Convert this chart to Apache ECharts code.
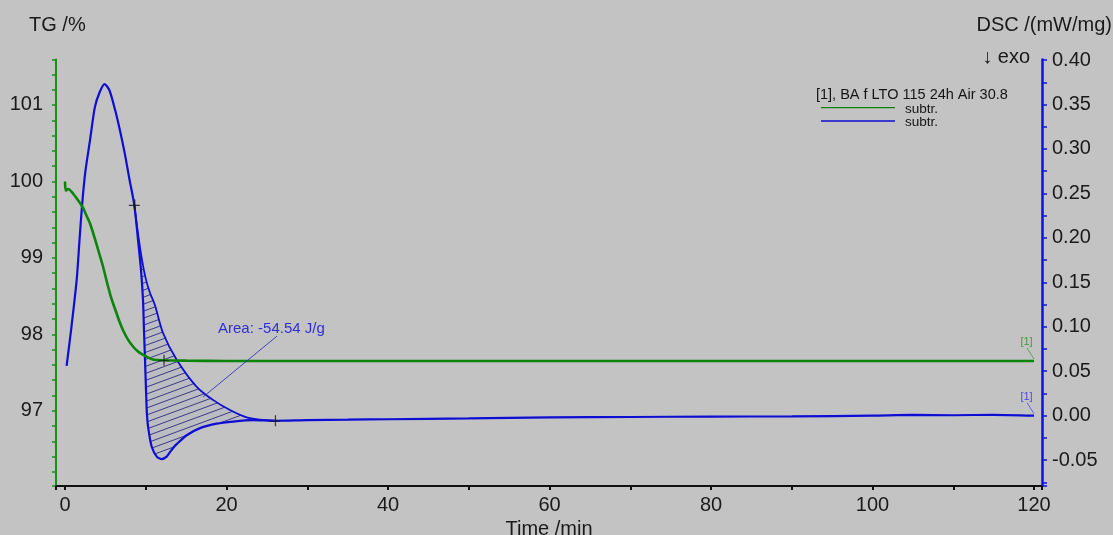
<!DOCTYPE html>
<html><head><meta charset="utf-8">
<script src="https://cdn.jsdelivr.net/npm/echarts@6/dist/echarts.min.js"></script>
<style>html,body{margin:0;padding:0;background:#c3c3c3;}#c{width:1113px;height:535px;}</style>
</head><body><div id="c"></div>
<script>
const FONT = 'Liberation Sans, Arial, Helvetica, sans-serif';

// ---- data ----
// DSC curve (mW/mg) vs time (min)
const dscTime  = [0.2, 0.8, 1.45, 1.8, 2.1, 2.5, 3.1, 3.7, 4.3, 4.9, 5.5, 6.2, 6.8, 7.4, 8.0, 8.58, 9.04, 9.41, 9.66, 9.78, 9.91, 10.03, 10.15, 10.34, 10.74, 11.36, 11.98, 12.59, 13.0, 13.41, 13.83, 15.07, 16.72, 18.79, 20.84, 23.28, 26.0, 30, 35, 40, 50, 60, 70, 80, 90, 100, 105, 110, 115, 120];
const dscValue = [0.056, 0.100, 0.153, 0.198, 0.235, 0.273, 0.310, 0.347, 0.364, 0.373, 0.366, 0.344, 0.321, 0.295, 0.265, 0.237, 0.198, 0.164, 0.130, 0.096, 0.0625, 0.029, 0.0007, -0.016, -0.035, -0.046, -0.049, -0.046, -0.041, -0.036, -0.032, -0.022, -0.014, -0.009, -0.0066, -0.005, -0.0057, -0.005, -0.0045, -0.004, -0.003, -0.002, -0.0015, -0.001, -0.0008, 0.0, 0.0008, 0.0005, 0.001, 0.0];
// integration baseline of the peak
const baseTime  = [8.58, 9.10, 9.54, 10.03, 10.53, 11.15, 12.14, 13.83, 16.31, 18.37, 20.43, 22.5, 24.15, 26.0];
const baseValue = [0.237, 0.201, 0.175, 0.153, 0.138, 0.124, 0.093, 0.063, 0.0325, 0.0175, 0.0063, -0.002, -0.0044, -0.0057];
// integration limits (indices into dsc arrays)
const peakStartIdx = 15;
const peakEndIdx = 36;
// TG curve (%) vs time (min)
const tgTime  = [0, 0.1, 0.4, 1.0, 1.5, 1.9, 2.3, 2.5, 3.1, 3.7, 4.2, 4.7, 5.1, 5.6, 6.0, 6.4, 6.8, 7.2, 7.8, 8.5, 9.1, 9.7, 10.9, 12.2, 15, 20, 30, 40, 50, 60, 70, 80, 90, 100, 110, 120];
const tgValue = [100.0, 99.88, 99.90, 99.84, 99.77, 99.71, 99.64, 99.59, 99.45, 99.25, 99.07, 98.89, 98.72, 98.52, 98.39, 98.27, 98.15, 98.05, 97.93, 97.83, 97.77, 97.73, 97.67, 97.66, 97.655, 97.65, 97.65, 97.65, 97.65, 97.65, 97.65, 97.65, 97.65, 97.65, 97.65, 97.65];
// marker points
const dscMarkers = [[8.58, 0.237], [26.0, -0.0057]];
const tgMarkers = [[12.2, 97.66]];
// annotation
const areaText = 'Area: -54.54 J/g';
const areaTextPos = [18.95, 0.0974];
const areaPointer = [[26.25, 0.0895], [17.1, 0.021]];
// axes
const xRange = [-1.115, 120.99];
const tgRange = [96.015, 101.595];
const dscRange = [-0.0791, 0.4006];
const legendTitle = '[1], BA f LTO 115 24h Air 30.8';
const legendItems = ['subtr.', 'subtr.'];

const GREEN = '#0b840b';
const GREEN_AX = '#159215';
const BLUE = '#0d0dd4';
const BLUE_AX = '#1010e6';
const TXT = '#1a1a1a';

function pairs(t, v) { return t.map((x, i) => [x, v[i]]); }

function makeHatch() {
  const W = 19, H = 7;
  const c = document.createElement('canvas');
  c.width = W; c.height = H;
  const g = c.getContext('2d');
  g.fillStyle = 'rgba(90,90,200,0.06)';
  g.fillRect(0, 0, W, H);
  g.strokeStyle = 'rgba(45,45,125,0.9)';
  g.lineWidth = 1;
  [[0,0],[-W,0],[W,0],[0,-H],[0,H]].forEach(([dx, dy]) => {
    g.beginPath(); g.moveTo(dx, H + dy); g.lineTo(W + dx, dy); g.stroke();
  });
  return c;
}
const hatchCanvas = makeHatch();

const chart = echarts.init(document.getElementById('c'), null, {renderer: 'canvas'});

function tagSeries(yIdx, point, color) {
  return {
    type: 'custom', xAxisIndex: 0, yAxisIndex: yIdx, silent: true, z: 6,
    data: [point],
    renderItem: function (params, api) {
      const p = api.coord([api.value(0), api.value(1)]);
      return {
        type: 'group',
        children: [
          {type: 'line', shape: {x1: p[0] - 7, y1: p[1] - 13, x2: p[0], y2: p[1] - 2}, style: {stroke: color, lineWidth: 0.8}},
          {type: 'text', style: {text: '[1]', x: p[0] - 7.5, y: p[1] - 19, align: 'center', verticalAlign: 'middle', textAlign: 'center', textVerticalAlign: 'middle', font: '11px ' + FONT, fill: color}}
        ]
      };
    }
  };
}

const option = {
  animation: false,
  backgroundColor: '#c3c3c3',
  textStyle: {fontFamily: FONT},
  grid: {left: 56, right: 71, top: 59.5, bottom: 49, containLabel: false, outerBoundsMode: 'none'},
  xAxis: {
    type: 'value', min: xRange[0], max: xRange[1], splitNumber: 12,
    axisLine: {show: true, onZero: false, lineStyle: {color: '#111', width: 2}},
    axisTick: {show: true, length: 4, lineStyle: {color: '#111', width: 2}},
    splitLine: {show: false},
    axisLabel: {margin: 9, fontSize: 20, color: TXT, fontFamily: FONT,
      formatter: v => (Math.abs(v / 20 - Math.round(v / 20)) < 1e-6 ? String(Math.round(v)) : '')},
    name: 'Time /min', nameLocation: 'middle', nameGap: 27,
    nameTextStyle: {fontSize: 20, color: TXT, fontFamily: FONT}
  },
  yAxis: [
    {
      type: 'value', position: 'left', min: tgRange[0], max: tgRange[1], splitNumber: 5,
      axisLine: {show: true, onZero: false, lineStyle: {color: GREEN_AX, width: 2}},
      axisTick: {show: true, length: 4, lineStyle: {color: GREEN_AX, width: 1.5}},
      minorTick: {show: true, splitNumber: 5, length: 4, lineStyle: {color: GREEN_AX, width: 1.5}},
      splitLine: {show: false},
      axisLabel: {margin: 13, fontSize: 20, color: TXT, fontFamily: FONT, padding: [3, 0, 0, 0],
        formatter: v => (Math.abs(v - Math.round(v)) < 1e-6 ? String(Math.round(v)) : '')}
    },
    {
      type: 'value', position: 'right', min: dscRange[0], max: dscRange[1], splitNumber: 10,
      axisLine: {show: true, onZero: false, lineStyle: {color: BLUE_AX, width: 2.5}},
      axisTick: {show: true, length: 5, lineStyle: {color: BLUE_AX, width: 1.5}},
      minorTick: {show: true, splitNumber: 2, length: 5, lineStyle: {color: BLUE_AX, width: 1.5}},
      splitLine: {show: false},
      axisLabel: {margin: 10, fontSize: 20, color: TXT, fontFamily: FONT, padding: [3, 0, 0, 0],
        formatter: v => (Math.abs(v / 0.05 - Math.round(v / 0.05)) < 1e-6 ? (Math.round(v / 0.05) * 0.05).toFixed(2) : '')}
    }
  ],
  series: [
    { // hatched peak area between DSC and baseline
      type: 'custom', xAxisIndex: 0, yAxisIndex: 1, silent: true, z: 1,
      data: [[dscTime[peakStartIdx], dscValue[peakStartIdx]]],
      renderItem: function (params, api) {
        const pts = [];
        for (let i = peakStartIdx; i <= peakEndIdx; i++) pts.push(api.coord([dscTime[i], dscValue[i]]));
        for (let i = baseTime.length - 1; i >= 0; i--) pts.push(api.coord([baseTime[i], baseValue[i]]));
        return {type: 'polygon', shape: {points: pts, smooth: 0.2}, style: {fill: {image: hatchCanvas, repeat: 'repeat'}, stroke: null}};
      }
    },
    {
      type: 'line', name: 'baseline', xAxisIndex: 0, yAxisIndex: 1, z: 2,
      data: pairs(baseTime, baseValue), showSymbol: false, symbol: 'none', smooth: 0.3,
      lineStyle: {color: BLUE, width: 1.8}, silent: true
    },
    {
      type: 'line', name: 'DSC', xAxisIndex: 0, yAxisIndex: 1, z: 3,
      data: pairs(dscTime, dscValue), showSymbol: false, symbol: 'none', smooth: 0.25,
      lineStyle: {color: BLUE, width: 2.2}, silent: true
    },
    {
      type: 'line', name: 'TG', xAxisIndex: 0, yAxisIndex: 0, z: 4,
      data: pairs(tgTime, tgValue), showSymbol: false, symbol: 'none', smooth: 0.25,
      lineStyle: {color: GREEN, width: 2.6}, silent: true
    },
    {
      type: 'scatter', xAxisIndex: 0, yAxisIndex: 1, z: 6, silent: true,
      data: dscMarkers, symbol: 'path://M0,5.4H11V6.6H0ZM5.4,0H6.6V11H5.4Z', symbolSize: 11,
      itemStyle: {color: '#111'}
    },
    {
      type: 'scatter', xAxisIndex: 0, yAxisIndex: 0, z: 6, silent: true,
      data: tgMarkers, symbol: 'path://M0,5.4H11V6.6H0ZM5.4,0H6.6V11H5.4Z', symbolSize: 11,
      itemStyle: {color: '#111'}
    },
    { // area annotation with pointer line
      type: 'custom', xAxisIndex: 0, yAxisIndex: 1, silent: true, z: 6,
      data: [areaTextPos],
      renderItem: function (params, api) {
        const a = api.coord(areaPointer[0]);
        const b = api.coord(areaPointer[1]);
        const t = api.coord([api.value(0), api.value(1)]);
        return {
          type: 'group',
          children: [
            {type: 'line', shape: {x1: a[0], y1: a[1], x2: b[0], y2: b[1]}, style: {stroke: '#3333b8', lineWidth: 0.9}},
            {type: 'text', style: {text: areaText, x: t[0], y: t[1], align: 'left', verticalAlign: 'middle', textAlign: 'left', textVerticalAlign: 'middle', font: '15px ' + FONT, fill: '#2f2fd8'}}
          ]
        };
      }
    },
    tagSeries(0, [tgTime[tgTime.length - 1], tgValue[tgValue.length - 1]], '#3f9a3f'),
    tagSeries(1, [dscTime[dscTime.length - 1], dscValue[dscValue.length - 1]], '#4a4ad6')
  ],
  graphic: [
    {type: 'text', left: 29, top: 15, style: {text: 'TG /%', font: '20px ' + FONT, fill: TXT}},
    {type: 'text', right: 1, top: 15, style: {text: 'DSC /(mW/mg)', font: '20px ' + FONT, fill: TXT}},
    {type: 'text', right: 83, top: 47, style: {text: '\u2193 exo', font: '20px ' + FONT, fill: TXT}},
    {type: 'text', left: 816, top: 87, style: {text: legendTitle, font: '14.5px ' + FONT, fill: '#151515'}},
    {type: 'line', shape: {x1: 821, y1: 107.7, x2: 895, y2: 107.7}, style: {stroke: GREEN, lineWidth: 1.3}},
    {type: 'text', left: 905, top: 102, style: {text: legendItems[0], font: '13.5px ' + FONT, fill: '#151515'}},
    {type: 'line', shape: {x1: 821, y1: 121, x2: 895, y2: 121}, style: {stroke: BLUE, lineWidth: 1.3}},
    {type: 'text', left: 905, top: 115, style: {text: legendItems[1], font: '13.5px ' + FONT, fill: '#151515'}}
  ]
};
chart.setOption(option);
</script>
</body></html>
